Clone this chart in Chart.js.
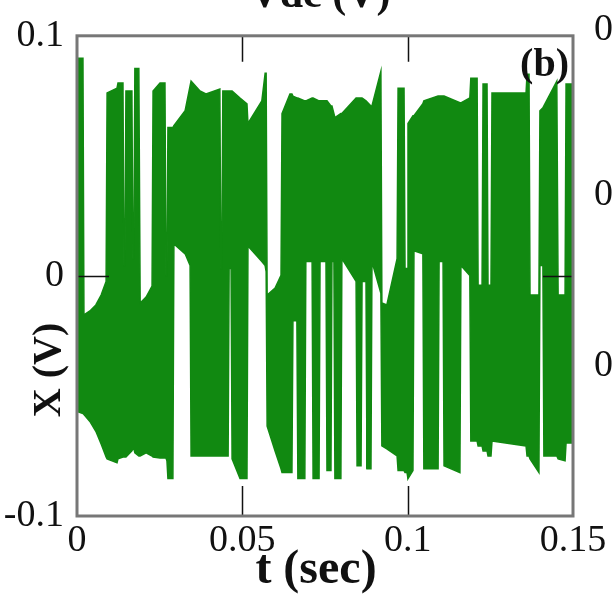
<!DOCTYPE html>
<html>
<head>
<meta charset="utf-8">
<title>X (V)</title>
<script src="https://cdn.jsdelivr.net/npm/chart.js@4.4.0/dist/chart.umd.min.js"></script>
<style>
  body { margin: 0; background: #fff; }
  canvas { display: block; }
</style>
</head>
<body>
<canvas id="grafico" width="613" height="599"></canvas>
<script>
// envolvente de la señal X(V): tiempo, valor maximo y minimo en cada punto
var tiempos = [
  0, 0.0018, 0.0021, 0.0039, 0.0057, 0.0073, 0.0088, 0.0091, 0.0121, 0.0124,
  0.0139, 0.0142, 0.0145, 0.0148, 0.0166, 0.0169, 0.0172, 0.0175, 0.0187, 0.0191,
  0.0209, 0.0227, 0.0230, 0.0251, 0.0266, 0.0269, 0.0272, 0.0275, 0.0290, 0.0293,
  0.0327, 0.0342, 0.0345, 0.0372, 0.0390, 0.0432, 0.0435, 0.0438, 0.0441, 0.0457,
  0.0460, 0.0466, 0.0469, 0.0493, 0.0514, 0.0517, 0.0559, 0.0569, 0.0572, 0.0575,
  0.0599, 0.0617, 0.0620, 0.0644, 0.0650, 0.0653, 0.0665, 0.0668, 0.0689, 0.0692,
  0.0711, 0.0714, 0.0732, 0.0735, 0.0753, 0.0756, 0.0768, 0.0771, 0.0777, 0.0780,
  0.0798, 0.0801, 0.0844, 0.0847, 0.0859, 0.0862, 0.0874, 0.0877, 0.0889, 0.0892,
  0.0919, 0.0922, 0.0937, 0.0968, 0.0971, 0.0989, 0.0992, 0.0998, 0.1001, 0.1016,
  0.1019, 0.1046, 0.1049, 0.1092, 0.1095, 0.1107, 0.1110, 0.1158, 0.1161, 0.1188,
  0.1191, 0.1210, 0.1213, 0.1225, 0.1228, 0.1240, 0.1243, 0.1252, 0.1255, 0.1358,
  0.1361, 0.1367, 0.1370, 0.1397, 0.1400, 0.1409, 0.1412, 0.1451, 0.1455, 0.1476,
  0.1479, 0.1500
];
var maximos = [
  0.0906, 0.0906, -0.0162, -0.0146, -0.0121, -0.008, -0.0023, 0.0762, 0.0782, 0.0803,
  0.0803, 0.0043, 0.0043, 0.077, 0.077, 0.0072, 0.0072, 0.0864, 0.0864, -0.0113,
  -0.0088, -0.0043, 0.077, 0.0803, 0.0803, 0.0002, 0.0002, 0.0618, 0.0618, 0.0626,
  0.0688, 0.0791, 0.0811, 0.077, 0.0758, 0.0778, 0.0031, 0.0031, 0.077, 0.077,
  0.077, 0.077, 0.077, 0.0741, 0.0717, 0.0635, 0.0729, 0.0844, 0.0844, -0.008,
  -0.0051, 0.0002, 0.0676, 0.0758, 0.0758, 0.0749, 0.0741, 0.0741, 0.0729, 0.0729,
  0.0741, 0.0741, 0.0729, 0.0729, 0.0729, 0.0729, 0.0708, 0.0708, 0.0676, 0.0659,
  0.0676, 0.0676, 0.0741, 0.0741, 0.0741, 0.0741, 0.0729, 0.0729, 0.0708, 0.0708,
  0.0852, -0.0113, -0.0121, 0.0072, 0.0782, 0.0782, 0.0031, 0.0031, 0.0635, 0.0667,
  0.0667, 0.0717, 0.0729, 0.0749, 0.0749, 0.0749, 0.0749, 0.0721, 0.0721, 0.0741,
  0.0823, 0.0823, -0.0039, -0.0039, 0.0799, 0.0799, -0.0039, -0.0039, 0.0762, 0.0762,
  0.084, 0.084, -0.008, -0.008, 0.0688, 0.07, 0.0708, 0.0811, -0.008, -0.008,
  0.0799, 0.0799
];
var minimos = [
  -0.0565, -0.0573, -0.0577, -0.0606, -0.0647, -0.07, -0.0754, -0.0762, -0.0778, -0.0762,
  -0.0754, -0.0754, -0.0754, -0.0754, -0.0729, -0.072, -0.072, -0.0737, -0.075, -0.075,
  -0.0737, -0.075, -0.0754, -0.0758, -0.0758, -0.0758, -0.077, -0.0844, -0.0844, 0.0133,
  0.0092, 0.0043, -0.075, -0.075, -0.075, -0.075, -0.075, -0.075, -0.075, -0.075,
  0.0031, 0.0031, -0.0762, -0.0844, -0.0844, 0.0125, 0.006, 0.0043, 0.0018, -0.0626,
  -0.0729, -0.0803, -0.0819, -0.0819, -0.0819, -0.0187, -0.0187, -0.0844, -0.0844, 0.006,
  0.006, -0.0844, -0.0844, 0.006, 0.006, -0.0811, -0.0811, 0.006, 0.006, -0.0844,
  -0.0844, 0.0072, -0.0023, -0.0791, -0.0791, -0.0023, -0.0023, -0.0803, -0.0803, 0.006,
  -0.0072, -0.0708, -0.072, -0.075, -0.0811, -0.0811, -0.0819, -0.0819, -0.0844, -0.0811,
  0.0105, 0.0092, -0.0803, -0.0803, 0.006, 0.006, -0.0791, -0.0819, 0.0043, 0.0002,
  -0.0688, -0.0688, -0.0708, -0.0708, -0.0729, -0.0729, -0.075, -0.075, -0.0688, -0.0708,
  -0.075, -0.075, -0.0762, -0.0819, 0.0043, 0.0043, -0.075, -0.075, -0.0762, -0.077,
  -0.0696, -0.0696
];

var ticksX = [0, 0.05, 0.1, 0.15];
var ticksY = [-0.1, 0, 0.1];
var marcasX = [0.05, 0.1];   // marcas interiores
var marcasY = [0];

var verde = '#118911';
var fuente = '"Liberation Serif", "Times New Roman", serif';

function puntos(valores) {
  return tiempos.map(function (t, i) { return { x: t, y: valores[i] }; });
}

function etiqueta(v) {
  return String(+v.toFixed(2));
}

// marco, marcas hacia dentro y textos
var marco = {
  id: 'marco',
  afterDatasetsDraw: function (chart) {
    var ctx = chart.ctx;
    var a = chart.chartArea;
    var sx = chart.scales.x;
    var sy = chart.scales.y;
    ctx.save();

    ctx.strokeStyle = '#111';
    ctx.lineWidth = 1.5;
    marcasX.forEach(function (v) {
      var px = Math.round(sx.getPixelForValue(v)) + 0.5;
      ctx.beginPath();
      ctx.moveTo(px, a.top); ctx.lineTo(px, a.top + 26);
      ctx.moveTo(px, a.bottom); ctx.lineTo(px, a.bottom - 30);
      ctx.stroke();
    });
    marcasY.forEach(function (v) {
      var py = Math.round(sy.getPixelForValue(v)) + 0.5;
      ctx.beginPath();
      ctx.moveTo(a.left, py); ctx.lineTo(a.left + 32, py);
      ctx.moveTo(a.right, py); ctx.lineTo(a.right - 30, py);
      ctx.stroke();
    });

    ctx.strokeStyle = '#777';
    ctx.lineWidth = 3;
    ctx.strokeRect(a.left, a.top, a.right - a.left, a.bottom - a.top);

    ctx.fillStyle = '#111';
    ctx.font = 'bold 40px ' + fuente;
    ctx.textAlign = 'right';
    ctx.textBaseline = 'middle';
    ctx.fillText('(b)', a.right - 4, a.top + 30);

    ctx.textAlign = 'center';
    ctx.textBaseline = 'alphabetic';
    ctx.font = 'bold 48px ' + fuente;
    ctx.fillText('t (sec)', 316, 583);
    ctx.font = 'bold 42px ' + fuente;
    ctx.fillText('Vdc (V)', 320, 7);

    ctx.save();
    ctx.translate(50, 370);
    ctx.rotate(-Math.PI / 2);
    ctx.font = 'bold 40px ' + fuente;
    ctx.textBaseline = 'middle';
    ctx.fillText('X (V)', 0, 0);
    ctx.restore();

    // etiquetas cortadas del panel vecino
    ctx.font = '38px ' + fuente;
    ctx.textAlign = 'left';
    ctx.textBaseline = 'middle';
    ctx.fillText('0', 594, 30);
    ctx.fillText('0', 594, 195);
    ctx.fillText('0', 594, 366);
    ctx.restore();
  }
};

var grafico = new Chart(document.getElementById('grafico'), {
  type: 'line',
  data: {
    datasets: [
      {
        data: puntos(maximos),
        borderColor: verde,
        backgroundColor: verde,
        borderWidth: 1.5,
        pointRadius: 0,
        tension: 0,
        fill: '+1'
      },
      {
        data: puntos(minimos),
        borderColor: verde,
        backgroundColor: verde,
        borderWidth: 1.5,
        pointRadius: 0,
        tension: 0,
        fill: false
      }
    ]
  },
  options: {
    responsive: false,
    animation: false,
    devicePixelRatio: 1,
    layout: { padding: { top: 29, right: 40, left: 0, bottom: 0 } },
    plugins: { legend: { display: false }, tooltip: { enabled: false } },
    scales: {
      x: {
        type: 'linear',
        min: 0,
        max: 0.15,
        afterBuildTicks: function (s) { s.ticks = ticksX.map(function (v) { return { value: v }; }); },
        afterFit: function (s) { s.height = 83; },
        grid: { display: false, drawTicks: false },
        border: { display: false },
        ticks: {
          autoSkip: false,
          maxRotation: 0,
          padding: 2,
          color: '#111',
          font: { family: fuente, size: 38 },
          callback: function (v) { return etiqueta(v); }
        }
      },
      y: {
        type: 'linear',
        min: -0.1,
        max: 0.1,
        afterBuildTicks: function (s) { s.ticks = ticksY.map(function (v) { return { value: v }; }); },
        afterFit: function (s) { s.width = 77; },
        grid: { display: false, drawTicks: false },
        border: { display: false },
        ticks: {
          padding: 13,
          color: '#111',
          font: { family: fuente, size: 38 },
          callback: function (v) { return etiqueta(v); }
        }
      }
    }
  },
  plugins: [marco]
});
</script>
</body>
</html>
